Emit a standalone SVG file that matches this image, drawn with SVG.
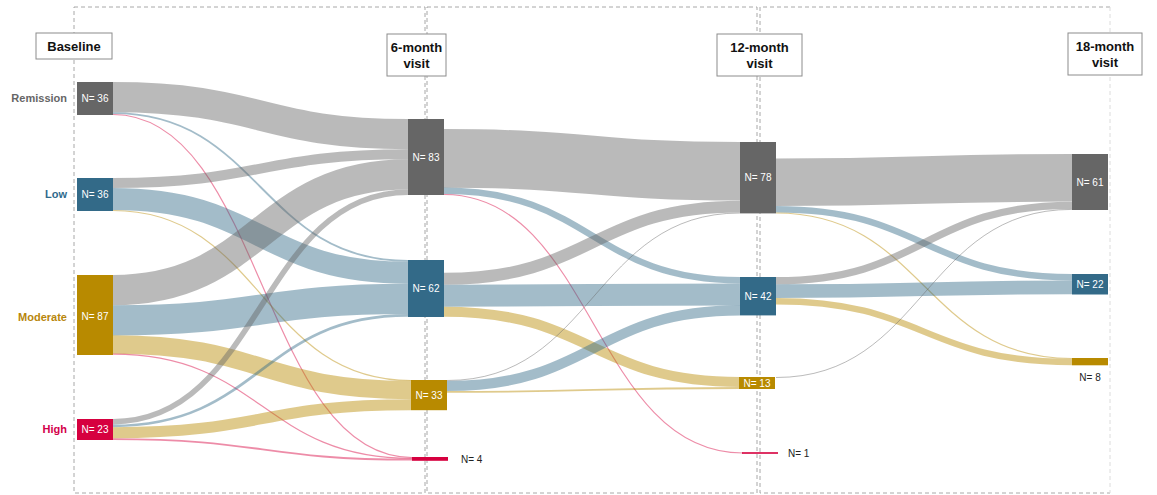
<svg xmlns="http://www.w3.org/2000/svg" width="1157" height="495" viewBox="0 0 1157 495">
<style>
.frame{fill:none;stroke:#a8a8a8;stroke-width:1;stroke-dasharray:4 3}
.frame2{fill:none;stroke:#dcdcdc;stroke-width:1;stroke-dasharray:4 3}
.lk{fill:none;stroke-opacity:0.45}
.g{stroke:#666666}
.b{stroke:#336a88}
.y{stroke:#b88a00}
.r{stroke:#d6003f}
.nR{fill:#666666}
.nL{fill:#336a88}
.nM{fill:#b88a00}
.nH{fill:#d6003f}
.nt{font-family:"Liberation Sans",Arial,sans-serif;font-size:10px;fill:#ffffff;text-anchor:middle}
.ot{font-family:"Liberation Sans",Arial,sans-serif;font-size:10px;fill:#222222}
.cat{font-family:"Liberation Sans",Arial,sans-serif;font-size:11px;font-weight:bold;text-anchor:end}
.hb{fill:#ffffff;stroke:#8c8c8c;stroke-width:1}
.ht{font-family:"Liberation Sans",Arial,sans-serif;font-size:13px;font-weight:bold;fill:#111111;text-anchor:middle}
</style>
<rect width="1157" height="495" fill="#ffffff"/>
<g id="frames">
<rect class="frame" x="74" y="7" width="351" height="486"/>
<rect class="frame" x="427" y="7" width="330" height="486"/>
<path class="frame" d="M1110,7 H760 V493 H1110"/>
<path class="frame2" d="M1110,7 V493"/>
</g>
<g id="connectors">
<path class="lk g" stroke-width="30.2" d="M113,97.1 C260.5,97.1 260.5,134.1 408,134.1"/>
<path class="lk b" stroke-width="1.9" d="M113,113.1 C260.5,113.1 260.5,260.9 408,260.9"/>
<path class="lk r" stroke-width="1.2" d="M113,114.5 C262.5,114.5 262.5,457.5 412,457.5"/>
<path class="lk g" stroke-width="10.1" d="M113,183 C260.5,183 260.5,154.2 408,154.2"/>
<path class="lk b" stroke-width="22" d="M113,199 C260.5,199 260.5,272.8 408,272.8"/>
<path class="lk y" stroke-width="1.2" d="M113,210.5 C262,210.5 262,380.5 411,380.5"/>
<path class="lk g" stroke-width="30.2" d="M113,290.1 C260.5,290.1 260.5,174.4 408,174.4"/>
<path class="lk b" stroke-width="30.2" d="M113,320.3 C260.5,320.3 260.5,298.9 408,298.9"/>
<path class="lk y" stroke-width="18.3" d="M113,344.5 C262,344.5 262,390 411,390"/>
<path class="lk r" stroke-width="1.2" d="M113,354.2 C262.5,354.2 262.5,458.4 412,458.4"/>
<path class="lk g" stroke-width="5.5" d="M113,421.7 C260.5,421.7 260.5,192.2 408,192.2"/>
<path class="lk b" stroke-width="2.7" d="M113,425.9 C260.5,425.9 260.5,315.4 408,315.4"/>
<path class="lk y" stroke-width="11" d="M113,432.7 C262,432.7 262,404.7 411,404.7"/>
<path class="lk r" stroke-width="1.8" d="M113,439.1 C262.5,439.1 262.5,459.7 412,459.7"/>
<path class="lk g" stroke-width="58.6" d="M444,158.4 C592,158.4 592,171.3 740,171.3"/>
<path class="lk b" stroke-width="6.4" d="M444,190.8 C592,190.8 592,280.2 740,280.2"/>
<path class="lk r" stroke-width="1.2" d="M444,194.5 C593.5,194.5 593.5,453 743,453"/>
<path class="lk g" stroke-width="11.9" d="M444,278.8 C592,278.8 592,206.6 740,206.6"/>
<path class="lk b" stroke-width="22" d="M444,295.7 C592,295.7 592,294.4 740,294.4"/>
<path class="lk y" stroke-width="10.1" d="M444,311.7 C592,311.7 592,382 740,382"/>
<path class="lk g" stroke-width="1" d="M447,380.5 C593.5,380.5 593.5,213 740,213"/>
<path class="lk b" stroke-width="10.1" d="M447,386 C593.5,386 593.5,310.4 740,310.4"/>
<path class="lk y" stroke-width="1.8" d="M447,391.9 C593.5,391.9 593.5,388 740,388"/>
<path class="lk g" stroke-width="47.6" d="M776,182.3 C924,182.3 924,177.8 1072,177.8"/>
<path class="lk b" stroke-width="6.4" d="M776,209.3 C924,209.3 924,277.2 1072,277.2"/>
<path class="lk y" stroke-width="1.2" d="M776,213 C924,213 924,358.5 1072,358.5"/>
<path class="lk g" stroke-width="7.3" d="M776,280.7 C924,280.7 924,205.3 1072,205.3"/>
<path class="lk b" stroke-width="13.7" d="M776,291.2 C924,291.2 924,287.3 1072,287.3"/>
<path class="lk y" stroke-width="6.4" d="M776,301.2 C924,301.2 924,362.1 1072,362.1"/>
<path class="lk g" stroke-width="1" d="M776,377.5 C924,377.5 924,209.4 1072,209.4"/>
</g>
<g id="header-baseline"><rect class="hb" x="36" y="33" width="76" height="26"/><text class="ht" x="74" y="50.5">Baseline</text></g>
<g id="header-6m"><rect class="hb" x="387" y="34" width="59" height="42"/><text class="ht" x="416.5" y="51.5">6-month</text><text class="ht" x="416.5" y="67.5">visit</text></g>
<g id="header-12m"><rect class="hb" x="717" y="34" width="85" height="42"/><text class="ht" x="759.5" y="51.5">12-month</text><text class="ht" x="759.5" y="67.5">visit</text></g>
<g id="header-18m"><rect class="hb" x="1068" y="33" width="74" height="42"/><text class="ht" x="1105" y="50.5">18-month</text><text class="ht" x="1105" y="66.5">visit</text></g>
<g id="cat-remission"><text class="cat" x="67" y="101.5" fill="#666666">Remission</text></g>
<g id="cat-low"><text class="cat" x="67" y="198" fill="#2f6a8c">Low</text></g>
<g id="cat-moderate"><text class="cat" x="67" y="320.5" fill="#b8860b">Moderate</text></g>
<g id="cat-high"><text class="cat" x="67" y="433" fill="#d3004a">High</text></g>
<g id="n0-rem"><rect class="nR" x="77" y="82" width="36" height="33"/><text class="nt" x="95" y="101.5">N= 36</text></g>
<g id="n0-low"><rect class="nL" x="77" y="178" width="36" height="33"/><text class="nt" x="95" y="198">N= 36</text></g>
<g id="n0-mod"><rect class="nM" x="77" y="275" width="36" height="80"/><text class="nt" x="95" y="320">N= 87</text></g>
<g id="n0-high"><rect class="nH" x="77" y="419" width="36" height="21"/><text class="nt" x="95" y="433">N= 23</text></g>
<g id="n6-rem"><rect class="nR" x="408" y="119" width="36" height="76"/><text class="nt" x="426" y="160.5">N= 83</text></g>
<g id="n6-low"><rect class="nL" x="408" y="260" width="36" height="57"/><text class="nt" x="426" y="292">N= 62</text></g>
<g id="n6-mod"><rect class="nM" x="411" y="380" width="36" height="30.2"/><text class="nt" x="429" y="398.5">N= 33</text></g>
<g id="n6-high"><rect class="nH" x="412" y="457" width="36" height="3.8"/><text class="ot" x="461" y="462.5">N= 4</text></g>
<g id="n12-rem"><rect class="nR" x="740" y="142" width="36" height="71.4"/><text class="nt" x="758" y="181">N= 78</text></g>
<g id="n12-low"><rect class="nL" x="740" y="277" width="36" height="38.4"/><text class="nt" x="758" y="299.7">N= 42</text></g>
<g id="n12-mod"><rect class="nM" x="739" y="377" width="36" height="12"/><text class="nt" x="757" y="386.5">N= 13</text></g>
<g id="n12-high"><rect class="nH" x="742" y="452.2" width="36" height="1.6"/><text class="ot" x="788" y="457">N= 1</text></g>
<g id="n18-rem"><rect class="nR" x="1072" y="154" width="36" height="56"/><text class="nt" x="1090" y="185.5">N= 61</text></g>
<g id="n18-low"><rect class="nL" x="1072" y="274" width="36" height="20.5"/><text class="nt" x="1090" y="287.7">N= 22</text></g>
<g id="n18-mod"><rect class="nM" x="1072" y="358" width="36" height="7.3"/><text class="ot" x="1090" y="380.5" text-anchor="middle">N= 8</text></g>
</svg>
